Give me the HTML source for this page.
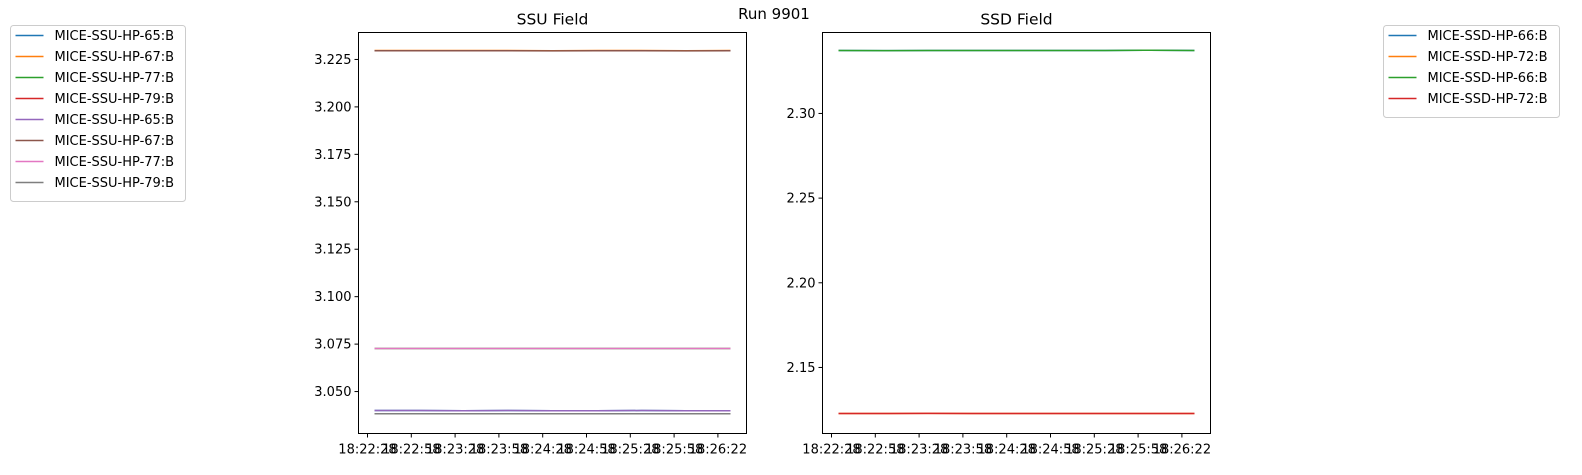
<!DOCTYPE html>
<html><head><meta charset="utf-8"><style>
body{margin:0;background:#fff;}
svg text{font-family:"DejaVu Sans","Liberation Sans",sans-serif;fill:#000;}
</style></head><body>
<svg id="fig" width="1582" height="470" xmlns="http://www.w3.org/2000/svg">
<text x="774" y="19" font-size="15" text-anchor="middle">Run 9901</text>
</svg>
<script>
const timeLabels=["18:22:28","18:22:58","18:23:28","18:23:58","18:24:28","18:24:58","18:25:28","18:25:58","18:26:22"];
const ssuNames=["MICE-SSU-HP-65:B","MICE-SSU-HP-67:B","MICE-SSU-HP-77:B","MICE-SSU-HP-79:B","MICE-SSU-HP-65:B","MICE-SSU-HP-67:B","MICE-SSU-HP-77:B","MICE-SSU-HP-79:B"];
const ssuValues=[
[3.0400,3.0400,3.0399,3.0400,3.0399,3.0399,3.0400,3.0399,3.0399],
[3.2297,3.2297,3.2297,3.2297,3.2296,3.2297,3.2297,3.2296,3.2297],
[3.0727,3.0727,3.0727,3.0727,3.0727,3.0727,3.0727,3.0727,3.0727],
[3.0383,3.0383,3.0383,3.0383,3.0383,3.0383,3.0383,3.0383,3.0383],
[3.0400,3.0400,3.0399,3.0400,3.0399,3.0399,3.0400,3.0399,3.0399],
[3.2296,3.2296,3.2296,3.2296,3.2295,3.2296,3.2296,3.2295,3.2296],
[3.0727,3.0727,3.0727,3.0727,3.0727,3.0727,3.0727,3.0727,3.0727],
[3.0383,3.0383,3.0383,3.0383,3.0383,3.0383,3.0383,3.0383,3.0383]];
const ssuTicks=[3.050,3.075,3.100,3.125,3.150,3.175,3.200,3.225];
const ssdNames=["MICE-SSD-HP-66:B","MICE-SSD-HP-72:B","MICE-SSD-HP-66:B","MICE-SSD-HP-72:B"];
const ssdValues=[
[2.3372,2.3371,2.3372,2.3372,2.3372,2.3372,2.3372,2.3373,2.3372],
[2.1228,2.1228,2.1229,2.1228,2.1228,2.1228,2.1228,2.1228,2.1228],
[2.3372,2.3371,2.3372,2.3372,2.3372,2.3372,2.3372,2.3373,2.3372],
[2.1228,2.1228,2.1229,2.1228,2.1228,2.1228,2.1228,2.1228,2.1228]];
const ssdTicks=[2.15,2.20,2.25,2.30];
const colors=["#1f77b4","#ff7f0e","#2ca02c","#d62728","#9467bd","#8c564b","#e377c2","#7f7f7f"];
const NS="http://www.w3.org/2000/svg";
const svg=document.getElementById("fig");
function el(tag,attrs,parent){const e=document.createElementNS(NS,tag);for(const k in attrs)e.setAttribute(k,attrs[k]);(parent||svg).appendChild(e);return e;}
function panel(x0,x1,y0,y1,ymin,ymax,ticks,dec,vals,title,key){
  const g=el("g",{});
  
  
  const X=i=>x0+16+i*(x1-x0-32)/(timeLabels.length-1);
  const Y=v=>y1-(v-ymin)/(ymax-ymin)*(y1-y0);
  const t=el("text",{x:(x0+x1)/2,y:y0-8,"font-size":15.5,"text-anchor":"middle"},g);t.textContent=title;
  
  
  vals.forEach((s,si)=>{
    const p=el("polyline",{points:s.map((v,i)=>X(i)+","+Y(v)).join(" "),fill:"none",stroke:colors[si],"stroke-width":1.5},g);
    
    
  });
  const r=el("rect",{x:x0,y:y0,width:x1-x0,height:y1-y0,fill:"none",stroke:"#000","stroke-width":1},g);
  
  
  ticks.forEach(v=>{
    el("line",{x1:x0-4,x2:x0,y1:Y(v),y2:Y(v),stroke:"#000"},g);
    const tx=el("text",{x:x0-7,y:Y(v)+4.5,"font-size":13,"text-anchor":"end"},g);tx.textContent=v.toFixed(dec);
    
    
  });
  timeLabels.forEach((l,i)=>{
    const xx=x0+9+i*43.8;
    el("line",{x1:xx,x2:xx,y1:y1,y2:y1+4,stroke:"#000"},g);
    const tx=el("text",{x:xx,y:y1+20,"font-size":13,"text-anchor":"middle"},g);tx.textContent=l;
    
    
  });
}
panel(358.5,746.5,32.5,433.5,3.0279,3.2392,ssuTicks,3,ssuValues,"SSU Field","ssu");
panel(822.5,1210.5,32.5,433.5,2.111,2.3478,ssdTicks,2,ssdValues,"SSD Field","ssd");
function legend(x,y,w,names,key){
  const g=el("g",{});
  
  
  el("rect",{x:x,y:y,width:w,height:names.length*21+8,rx:3,fill:"#fff",stroke:"#ccc"},g);
  names.forEach((n,i)=>{
    const yy=y+10+i*21;
    const ln=el("line",{x1:x+5,x2:x+33,y1:yy,y2:yy,stroke:colors[i],"stroke-width":1.5},g);
    
    
    const t=el("text",{x:x+44,y:yy+4.5,"font-size":13},g);t.textContent=n;
    
    
  });
}
legend(10.5,25.5,175,ssuNames,"ssu");
legend(1383.5,25.5,176,ssdNames,"ssd");
</script>
</body></html>
